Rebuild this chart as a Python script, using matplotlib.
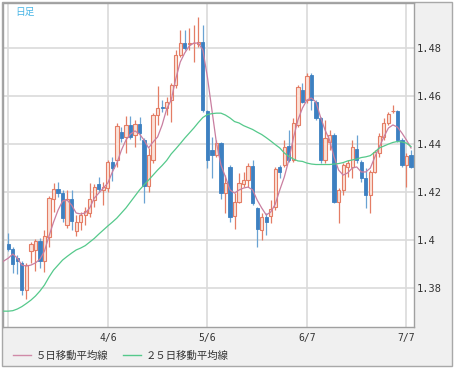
import matplotlib
matplotlib.use("Agg")
import matplotlib.pyplot as plt
import numpy as np
from matplotlib.patches import Rectangle
from matplotlib.lines import Line2D

# daily candles
opens = [1.3985, 1.3964, 1.3926, 1.3906, 1.3793, 1.3956, 1.3960, 1.3997, 1.3914, 1.4014,
         1.4172, 1.4214, 1.4197, 1.4064, 1.4172, 1.4039, 1.4076, 1.4106, 1.4114, 1.4168,
         1.4235, 1.4210, 1.4218, 1.4326, 1.4335, 1.4451, 1.4431, 1.4481, 1.4439, 1.4485,
         1.4418, 1.4226, 1.4335, 1.4522, 1.4555, 1.4551, 1.4585, 1.4647, 1.4772, 1.4822,
         1.4820, 1.4822, 1.4818, 1.4826, 1.4539, 1.4376, 1.4356, 1.4406, 1.4197, 1.4306,
         1.4101, 1.4160, 1.4235, 1.4251, 1.4310, 1.4135, 1.4043, 1.4097, 1.4101, 1.4139,
         1.4306, 1.4314, 1.4393, 1.4335, 1.4481, 1.4626, 1.4585, 1.4689, 1.4576, 1.4510,
         1.4335, 1.4410, 1.4439, 1.4160, 1.4210, 1.4306, 1.4306, 1.4381, 1.4326, 1.4260,
         1.4189, 1.4285, 1.4364, 1.4431, 1.4489, 1.4539, 1.4539, 1.4418, 1.4314, 1.4356]
closes = [1.3964, 1.3901, 1.3914, 1.3793, 1.3897, 1.3985, 1.3997, 1.3914, 1.4018, 1.4176,
          1.4214, 1.4197, 1.4093, 1.4172, 1.4081, 1.4076, 1.4106, 1.4122, 1.4172, 1.4222,
          1.4214, 1.4222, 1.4326, 1.4301, 1.4476, 1.4426, 1.4481, 1.4431, 1.4485, 1.4447,
          1.4226, 1.4356, 1.4522, 1.4551, 1.4551, 1.4576, 1.4647, 1.4772, 1.4822, 1.4801,
          1.4822, 1.4824, 1.4826, 1.4543, 1.4335, 1.4356, 1.4406, 1.4197, 1.4239, 1.4097,
          1.4160, 1.4239, 1.4251, 1.4310, 1.4156, 1.4047, 1.4097, 1.4076, 1.4131, 1.4297,
          1.4285, 1.4389, 1.4335, 1.4489, 1.4639, 1.4576, 1.4685, 1.4585, 1.4510, 1.4335,
          1.4426, 1.4439, 1.4160, 1.4210, 1.4314, 1.4322, 1.4389, 1.4335, 1.4260, 1.4189,
          1.4285, 1.4368, 1.4435, 1.4489, 1.4526, 1.4541, 1.4418, 1.4314, 1.4351, 1.4306]
highs = [1.4031, 1.3972, 1.3939, 1.3914, 1.3906, 1.3993, 1.4006, 1.4010, 1.4043, 1.4185,
         1.4239, 1.4243, 1.4210, 1.4210, 1.4210, 1.4106, 1.4118, 1.4139, 1.4239, 1.4235,
         1.4264, 1.4243, 1.4335, 1.4347, 1.4489, 1.4472, 1.4518, 1.4518, 1.4501, 1.4514,
         1.4426, 1.4385, 1.4531, 1.4643, 1.4585, 1.4597, 1.4656, 1.4793, 1.4876, 1.4876,
         1.4885, 1.4897, 1.4930, 1.4897, 1.4543, 1.4431, 1.4418, 1.4410, 1.4272, 1.4314,
         1.4197, 1.4281, 1.4285, 1.4322, 1.4335, 1.4139, 1.4114, 1.4114, 1.4168, 1.4306,
         1.4314, 1.4418, 1.4460, 1.4510, 1.4647, 1.4656, 1.4697, 1.4697, 1.4585, 1.4514,
         1.4501, 1.4460, 1.4447, 1.4218, 1.4322, 1.4335, 1.4418, 1.4439, 1.4335, 1.4301,
         1.4293, 1.4376, 1.4447, 1.4510, 1.4535, 1.4564, 1.4543, 1.4426, 1.4364, 1.4376]
lows = [1.3956, 1.3864, 1.3860, 1.3772, 1.3756, 1.3906, 1.3872, 1.3885, 1.3868, 1.3972,
        1.4118, 1.4181, 1.4076, 1.4051, 1.4043, 1.4018, 1.4043, 1.4064, 1.4097, 1.4139,
        1.4201, 1.4147, 1.4201, 1.4247, 1.4306, 1.4410, 1.4364, 1.4422, 1.4389, 1.4418,
        1.4156, 1.4201, 1.4322, 1.4481, 1.4535, 1.4522, 1.4493, 1.4635, 1.4764, 1.4793,
        1.4793, 1.4743, 1.4805, 1.4535, 1.4301, 1.4260, 1.4347, 1.4172, 1.4114, 1.4076,
        1.4047, 1.4156, 1.4222, 1.4222, 1.4147, 1.3972, 1.4001, 1.4022, 1.4072, 1.4126,
        1.4260, 1.4306, 1.4326, 1.4326, 1.4472, 1.4572, 1.4572, 1.4543, 1.4501, 1.4322,
        1.4322, 1.4376, 1.4156, 1.4072, 1.4189, 1.4264, 1.4260, 1.4322, 1.4243, 1.4135,
        1.4114, 1.4281, 1.4347, 1.4418, 1.4481, 1.4531, 1.4410, 1.4306, 1.4222, 1.4301]

# moving averages, starting two days before the first visible candle
ma5 = [1.3897, 1.3914,
       1.3926, 1.3943, 1.3926, 1.3897, 1.3893, 1.3897, 1.3906, 1.3922, 1.3956, 1.4018,
       1.4076, 1.4126, 1.4164, 1.4168, 1.4147, 1.4114, 1.4110, 1.4114, 1.4135, 1.4176,
       1.4197, 1.4218, 1.4239, 1.4285, 1.4322, 1.4376, 1.4418, 1.4443, 1.4456, 1.4443,
       1.4418, 1.4385, 1.4410, 1.4431, 1.4481, 1.4547, 1.4585, 1.4672, 1.4743, 1.4781,
       1.4810, 1.4822, 1.4822, 1.4793, 1.4681, 1.4543, 1.4406, 1.4314, 1.4264, 1.4210,
       1.4197, 1.4210, 1.4218, 1.4222, 1.4210, 1.4168, 1.4135, 1.4106, 1.4118, 1.4151,
       1.4210, 1.4264, 1.4335, 1.4426, 1.4501, 1.4551, 1.4585, 1.4593, 1.4576, 1.4514,
       1.4460, 1.4418, 1.4347, 1.4293, 1.4272, 1.4281, 1.4301, 1.4306, 1.4285, 1.4285,
       1.4301, 1.4347, 1.4389, 1.4431, 1.4468, 1.4481, 1.4472, 1.4447, 1.4418, 1.4385]
ma25 = [1.3705, 1.3705,
        1.3705, 1.3707, 1.3714, 1.3724, 1.3737, 1.3751, 1.3768, 1.3789, 1.3814, 1.3847,
        1.3876, 1.3897, 1.3918, 1.3933, 1.3947, 1.3960, 1.3968, 1.3978, 1.3993, 1.4008,
        1.4026, 1.4043, 1.4060, 1.4076, 1.4093, 1.4114, 1.4135, 1.4160, 1.4185, 1.4210,
        1.4231, 1.4251, 1.4272, 1.4293, 1.4312, 1.4333, 1.4360, 1.4381, 1.4403, 1.4426,
        1.4447, 1.4468, 1.4491, 1.4512, 1.4524, 1.4528, 1.4530, 1.4530, 1.4522, 1.4510,
        1.4495, 1.4489, 1.4478, 1.4470, 1.4462, 1.4451, 1.4441, 1.4428, 1.4414, 1.4399,
        1.4385, 1.4364, 1.4350, 1.4339, 1.4331, 1.4329, 1.4322, 1.4318, 1.4316, 1.4316,
        1.4316, 1.4316, 1.4318, 1.4320, 1.4324, 1.4331, 1.4335, 1.4339, 1.4345, 1.4348,
        1.4353, 1.4368, 1.4385, 1.4393, 1.4401, 1.4408, 1.4412, 1.4410, 1.4405, 1.4391]

date_ticks = [0, 22, 44, 66, 88]
date_labels = ["", "4/6", "5/6", "6/7", "7/7"]
price_ticks = [1.38, 1.40, 1.42, 1.44, 1.46, 1.48]
price_labels = ["1.38", "1.4", "1.42", "1.44", "1.46", "1.48"]

up_edge = "#e47d65"
up_face = "#fbe2d8"
down_col = "#3d80c1"
down_wick = "#6aa3d3"

W, H = 456, 370
fig = plt.figure(figsize=(W / 100, H / 100), dpi=100)
fig.patch.set_facecolor("white")
fig.add_artist(Rectangle((2 / W, 4 / H), 450 / W, 364 / H, transform=fig.transFigure,
                         facecolor="#f0f0f0", edgecolor="#a8a8a8", lw=1.0, zorder=0))

ax = fig.add_axes([3 / W, 43 / H, 411 / W, 324 / H])
ax.set_facecolor("white")

o = np.array(opens)
c = np.array(closes)
hi = np.array(highs)
lo = np.array(lows)
x = np.arange(len(o))
up = c >= o

ax.vlines(x[up], lo[up], hi[up], color=up_edge, lw=0.9, zorder=3)
ax.vlines(x[~up], lo[~up], hi[~up], color=down_wick, lw=0.9, zorder=3)
ax.bar(x[up], c[up] - o[up], bottom=o[up], width=0.72,
       facecolor=up_face, edgecolor=up_edge, lw=0.8, zorder=4)
ax.bar(x[~up], o[~up] - c[~up], bottom=c[~up], width=0.72,
       facecolor=down_col, edgecolor=down_col, lw=0.6, zorder=4)

ma_x = np.arange(-2, len(o))
l5, = ax.plot(ma_x, ma5, color="#c97ea0", lw=0.9, zorder=5)
l25, = ax.plot(ma_x, ma25, color="#55c98b", lw=0.9, zorder=5)

ax.set_xlim(-1.17, 89.66)
ax.set_ylim(1.3639, 1.4989)

ax.set_xticks(date_ticks)
ax.set_xticklabels(date_labels, family="DejaVu Sans Mono", fontsize=7, color="#333333")
ax.yaxis.tick_right()
ax.set_yticks(price_ticks)
ax.set_yticklabels(price_labels, family="DejaVu Sans Mono", fontsize=7.5, color="#333333")
ax.tick_params(axis="both", length=0)
ax.tick_params(axis="x", pad=4)
ax.tick_params(axis="y", pad=2)
ax.grid(True, color="#dadada", lw=1.2, zorder=1)
ax.set_axisbelow(True)
for s in ax.spines.values():
    s.set_color("#a0a0a0")
    s.set_linewidth(1.0)

fig.text(15 / W, 1 - 7 / H, "日足", color="#4ab6e6", fontsize=7,
         family=["Noto Sans CJK JP", "DejaVu Sans"], va="top", ha="left")

leg_handles = [Line2D([], [], color="#d08aa8", lw=1.0), Line2D([], [], color="#55c98b", lw=1.0)]
fig.legend(leg_handles, ["５日移動平均線", "２５日移動平均線"], loc="center left",
           bbox_to_anchor=(13 / W, 1 - 356 / H), ncol=2, frameon=False,
           prop={"family": ["Noto Sans CJK JP", "DejaVu Sans"], "size": 7.5},
           handlelength=1.7, handletextpad=0.5, columnspacing=1.4,
           borderpad=0, borderaxespad=0, labelcolor="#333333")

fig.savefig("out.png", dpi=100, facecolor="white")
